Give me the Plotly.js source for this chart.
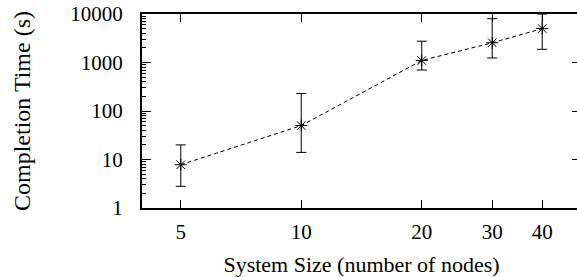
<!DOCTYPE html>
<html>
<head>
<meta charset="utf-8">
<script src="https://cdn.plot.ly/plotly-3.0.1.min.js"></script>
<style>
html,body{margin:0;padding:0;overflow:hidden;background:#fff;}
#chart{width:600px;height:277px;}
</style>
</head>
<body>
<div id="chart"></div>
<script>
const systemSize = [5, 10, 20, 30, 40];
const completionTime = [7.8, 50, 1100, 2550, 5000];
const errUpper = [20, 230, 2750, 8000, 10000];
const errLower = [2.8, 14, 700, 1240, 1870];
const xTickVals = [5, 10, 20, 30, 40];
const yTickVals = [1, 10, 100, 1000, 10000];
const minorMultipliers = [2, 3, 4, 5, 6, 7, 8, 9];

const plus = completionTime.map((v, i) => errUpper[i] - v);
const minus = completionTime.map((v, i) => v - errLower[i]);
const yMinorVals = [];
yTickVals.slice(0, -1).forEach(d => minorMultipliers.forEach(m => yMinorVals.push(d * m)));

const fam = '"Liberation Serif", "Times New Roman", serif';

const trace = {
  x: systemSize,
  y: completionTime,
  type: 'scatter',
  mode: 'lines+markers',
  line: {color: '#000', width: 1, dash: '4px,3px'},
  marker: {symbol: 'asterisk-open', size: 10, color: '#000', line: {color: '#000', width: 1}},
  error_y: {type: 'data', symmetric: false, array: plus, arrayminus: minus, color: '#000', thickness: 1, width: 5},
  showlegend: false
};

const layout = {
  width: 600, height: 277,
  margin: {l: 142, r: 19, t: 14, b: 69},
  paper_bgcolor: '#fff', plot_bgcolor: '#fff',
  font: {family: fam, size: 21, color: '#000'},
  xaxis: {
    type: 'log',
    range: [Math.log10(4), Math.log10(50)],
    tickvals: xTickVals, ticktext: xTickVals.map(String),
    ticks: 'inside', ticklen: 8, tickwidth: 1, tickcolor: '#000',
    showline: true, linecolor: '#000', linewidth: 2, mirror: 'ticks',
    showgrid: false, zeroline: false,
    tickfont: {family: fam, size: 21, color: '#000'},
    ticklabelstandoff: 4,
    title: {text: 'System Size (number of nodes)', font: {family: fam, size: 22, color: '#000'}, standoff: 16}
  },
  yaxis: {
    type: 'log',
    range: [0, 4],
    tickvals: yTickVals, ticktext: yTickVals.map(String),
    ticks: 'inside', ticklen: 9, tickwidth: 1, tickcolor: '#000',
    minor: {tickvals: yMinorVals, ticks: 'inside', ticklen: 4, tickwidth: 1, tickcolor: '#000', showgrid: false},
    showline: true, linecolor: '#000', linewidth: 2, mirror: 'ticks',
    showgrid: false, zeroline: false,
    tickfont: {family: fam, size: 21, color: '#000'},
    ticklabelstandoff: 13,
    title: {text: 'Completion Time (s)', font: {family: fam, size: 24, color: '#000'}, standoff: 33}
  }
};

Plotly.newPlot('chart', [trace], layout, {displayModeBar: false, staticPlot: true});
</script>
</body>
</html>
